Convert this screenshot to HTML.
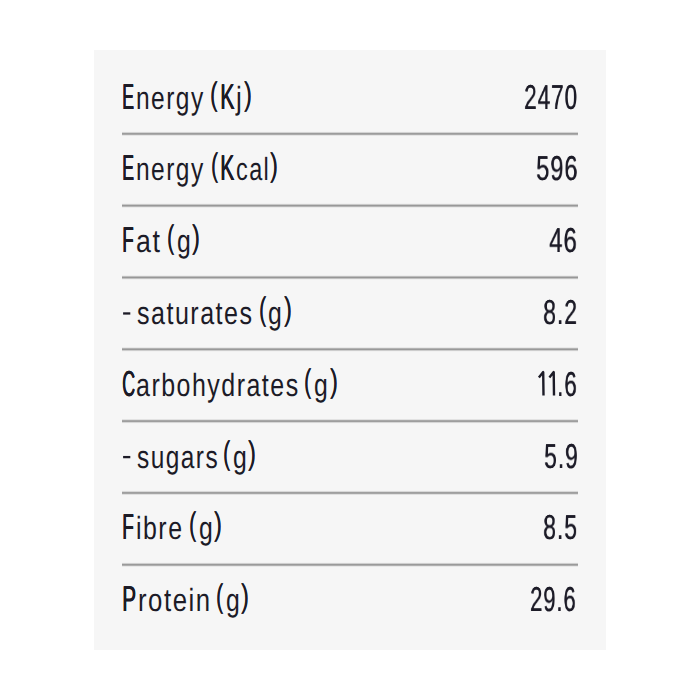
<!DOCTYPE html><html><head><meta charset="utf-8"><style>
html,body{margin:0;padding:0;background:#fff;width:700px;height:700px;overflow:hidden}
.box{position:absolute;left:94px;top:50px;width:512px;height:600px;background:#f6f6f6}
.t{position:absolute;left:0;font-family:"Liberation Sans",sans-serif;font-size:36px;line-height:43px;color:#1c1b27;white-space:nowrap;transform-origin:0 0;text-rendering:geometricPrecision}
.lc{font-size:32px;letter-spacing:1.9px}
.pl,.pr{display:inline-block;transform:translateY(-4.45px) scaleY(0.91);transform-origin:0 33.97px}
.ln{position:absolute;left:122px;width:456px;height:1px;background:#999999}
.cu{text-shadow:0.450px 0 0 #1c1b27,0.900px 0 0 #1c1b27}.dg{text-shadow:0.550px 0 0 #1c1b27;letter-spacing:1.5px}.lw{text-shadow:none}.pu{text-shadow:0.400px 0 0 #1c1b27}
</style></head><body><div class="box"></div>
<div class="t cu" style="top:74.50px;left:122.03px;transform:scaleX(0.4905)">E</div>
<div class="t lw" style="top:74.50px;left:135.67px;transform:scaleX(0.7663)"><span class="lc">nergy</span></div>
<div class="t pu" style="top:74.50px;left:209.76px;transform:scaleX(0.6200)"><span class="pl">(</span></div>
<div class="t cu" style="top:74.50px;left:219.71px;transform:scaleX(0.5952)">K</div>
<div class="t lw" style="top:74.50px;left:236.42px;transform:scaleX(0.8167)"><span class="lc">j</span></div>
<div class="t pu" style="top:74.50px;left:243.86px;transform:scaleX(0.6444)"><span class="pr">)</span></div>
<div class="t dg" style="top:74.50px;left:523.65px;transform-origin:0 34.00px;transform:scale(0.6268,0.960);will-change:transform">2470</div>
<div class="ln" style="top:131px;background:#f4f4f4"></div>
<div class="ln" style="top:132px;background:#d4d4d4"></div>
<div class="ln" style="top:133px;background:#9c9c9c"></div>
<div class="ln" style="top:134px;background:#ababab"></div>
<div class="ln" style="top:135px;background:#e5e5e5"></div>
<div class="t cu" style="top:146.32px;left:122.03px;transform:scaleX(0.4905)">E</div>
<div class="t lw" style="top:146.32px;left:135.67px;transform:scaleX(0.7663)"><span class="lc">nergy</span></div>
<div class="t pu" style="top:146.32px;left:210.54px;transform:scaleX(0.5800)"><span class="pl">(</span></div>
<div class="t cu" style="top:146.32px;left:219.74px;transform:scaleX(0.5857)">K</div>
<div class="t lw" style="top:146.32px;left:235.77px;transform:scaleX(0.7333)"><span class="lc">cal</span></div>
<div class="t pu" style="top:146.32px;left:270.26px;transform:scaleX(0.6444)"><span class="pr">)</span></div>
<div class="t dg" style="top:146.32px;left:535.89px;transform-origin:0 34.00px;transform:scale(0.6567,0.960);will-change:transform">596</div>
<div class="ln" style="top:203px;background:#f1f1f1"></div>
<div class="ln" style="top:204px;background:#c9c9c9"></div>
<div class="ln" style="top:205px;background:#989898"></div>
<div class="ln" style="top:206px;background:#b6b6b6"></div>
<div class="ln" style="top:207px;background:#ebebeb"></div>
<div class="t cu" style="top:218.14px;left:121.94px;transform:scaleX(0.5211)">F</div>
<div class="t lw" style="top:218.14px;left:135.86px;transform:scaleX(0.8357)"><span class="lc">at</span></div>
<div class="t pu" style="top:218.14px;left:167.02px;transform:scaleX(0.5900)"><span class="pl">(</span></div>
<div class="t lw" style="top:218.14px;left:176.83px;transform:scaleX(0.7733)"><span class="lc">g</span></div>
<div class="t pu" style="top:218.14px;left:192.16px;transform:scaleX(0.6444)"><span class="pr">)</span></div>
<div class="t dg" style="top:218.14px;left:549.34px;transform-origin:0 34.00px;transform:scale(0.6650,0.960);will-change:transform">46</div>
<div class="ln" style="top:275px;background:#eeeeee"></div>
<div class="ln" style="top:276px;background:#bdbdbd"></div>
<div class="ln" style="top:277px;background:#979797"></div>
<div class="ln" style="top:278px;background:#c1c1c1"></div>
<div class="ln" style="top:279px;background:#efefef"></div>
<div class="t lw" style="top:289.96px;left:137.32px;transform:scaleX(0.7834)"><span class="lc">saturates</span></div>
<div class="t pu" style="top:289.96px;left:258.62px;transform:scaleX(0.5900)"><span class="pl">(</span></div>
<div class="t lw" style="top:289.96px;left:268.43px;transform:scaleX(0.7733)"><span class="lc">g</span></div>
<div class="t pu" style="top:289.96px;left:283.76px;transform:scaleX(0.6444)"><span class="pr">)</span></div>
<div class="t dg" style="top:289.96px;left:543.36px;transform-origin:0 34.00px;transform:scale(0.6392,0.960);will-change:transform">8.2</div>
<div class="ln" style="top:347px;background:#e9e9e9"></div>
<div class="ln" style="top:348px;background:#b2b2b2"></div>
<div class="ln" style="top:349px;background:#999999"></div>
<div class="ln" style="top:350px;background:#cdcdcd"></div>
<div class="ln" style="top:351px;background:#f2f2f2"></div>
<div class="t cu" style="top:361.78px;left:121.81px;transform:scaleX(0.4957)">C</div>
<div class="t lw" style="top:361.78px;left:136.22px;transform:scaleX(0.7806)"><span class="lc">arbohydrates</span></div>
<div class="t pu" style="top:361.78px;left:304.42px;transform:scaleX(0.5900)"><span class="pl">(</span></div>
<div class="t lw" style="top:361.78px;left:314.23px;transform:scaleX(0.7733)"><span class="lc">g</span></div>
<div class="t pu" style="top:361.78px;left:329.56px;transform:scaleX(0.6444)"><span class="pr">)</span></div>
<div class="t dg" style="top:361.78px;left:557.44px;transform-origin:0 34.00px;transform:scale(0.6214,0.960);will-change:transform">.6</div>
<div class="ln" style="top:419px;background:#e2e2e2"></div>
<div class="ln" style="top:420px;background:#a8a8a8"></div>
<div class="ln" style="top:421px;background:#9e9e9e"></div>
<div class="ln" style="top:422px;background:#d7d7d7"></div>
<div class="ln" style="top:423px;background:#f4f4f4"></div>
<div class="t lw" style="top:433.60px;left:137.34px;transform:scaleX(0.7641)"><span class="lc">sugars</span></div>
<div class="t pu" style="top:433.60px;left:223.12px;transform:scaleX(0.5900)"><span class="pl">(</span></div>
<div class="t lw" style="top:433.60px;left:232.93px;transform:scaleX(0.7733)"><span class="lc">g</span></div>
<div class="t pu" style="top:433.60px;left:248.26px;transform:scaleX(0.6444)"><span class="pr">)</span></div>
<div class="t dg" style="top:433.60px;left:543.63px;transform-origin:0 34.00px;transform:scale(0.6340,0.960);will-change:transform">5.9</div>
<div class="ln" style="top:490px;background:#f4f4f4"></div>
<div class="ln" style="top:491px;background:#d9d9d9"></div>
<div class="ln" style="top:492px;background:#9f9f9f"></div>
<div class="ln" style="top:493px;background:#a6a6a6"></div>
<div class="ln" style="top:494px;background:#e0e0e0"></div>
<div class="t cu" style="top:505.42px;left:121.82px;transform:scaleX(0.5263)">F</div>
<div class="t lw" style="top:505.42px;left:136.14px;transform:scaleX(0.7786)"><span class="lc">ibre</span></div>
<div class="t pu" style="top:505.42px;left:188.72px;transform:scaleX(0.5900)"><span class="pl">(</span></div>
<div class="t lw" style="top:505.42px;left:198.53px;transform:scaleX(0.7733)"><span class="lc">g</span></div>
<div class="t pu" style="top:505.42px;left:213.86px;transform:scaleX(0.6444)"><span class="pr">)</span></div>
<div class="t dg" style="top:505.42px;left:543.36px;transform-origin:0 34.00px;transform:scale(0.6392,0.960);will-change:transform">8.5</div>
<div class="ln" style="top:562px;background:#f3f3f3"></div>
<div class="ln" style="top:563px;background:#cfcfcf"></div>
<div class="ln" style="top:564px;background:#9a9a9a"></div>
<div class="ln" style="top:565px;background:#afafaf"></div>
<div class="ln" style="top:566px;background:#e8e8e8"></div>
<div class="t cu" style="top:577.24px;left:121.88px;transform:scaleX(0.5750)">P</div>
<div class="t lw" style="top:577.24px;left:137.79px;transform:scaleX(0.8047)"><span class="lc">rotein</span></div>
<div class="t pu" style="top:577.24px;left:216.02px;transform:scaleX(0.5900)"><span class="pl">(</span></div>
<div class="t lw" style="top:577.24px;left:225.83px;transform:scaleX(0.7733)"><span class="lc">g</span></div>
<div class="t pu" style="top:577.24px;left:241.16px;transform:scaleX(0.6444)"><span class="pr">)</span></div>
<div class="t dg" style="top:577.24px;left:530.28px;transform-origin:0 34.00px;transform:scale(0.6111,0.960);will-change:transform">29.6</div>
<svg width="700" height="700" viewBox="0 0 700 700" style="position:absolute;left:0;top:0"><g fill="none" stroke="#1c1b27" stroke-width="2.4" stroke-linejoin="round"><path d="M538.90 377.50 L543.20 372.10 L543.50 395.60"/><path d="M549.40 377.50 L553.70 372.10 L554.00 395.60"/></g><rect x="123.1" y="312.31" width="7.2" height="2.30" fill="#1c1b27"/><rect x="123.1" y="455.95" width="7.2" height="2.30" fill="#1c1b27"/></svg>
</body></html>
